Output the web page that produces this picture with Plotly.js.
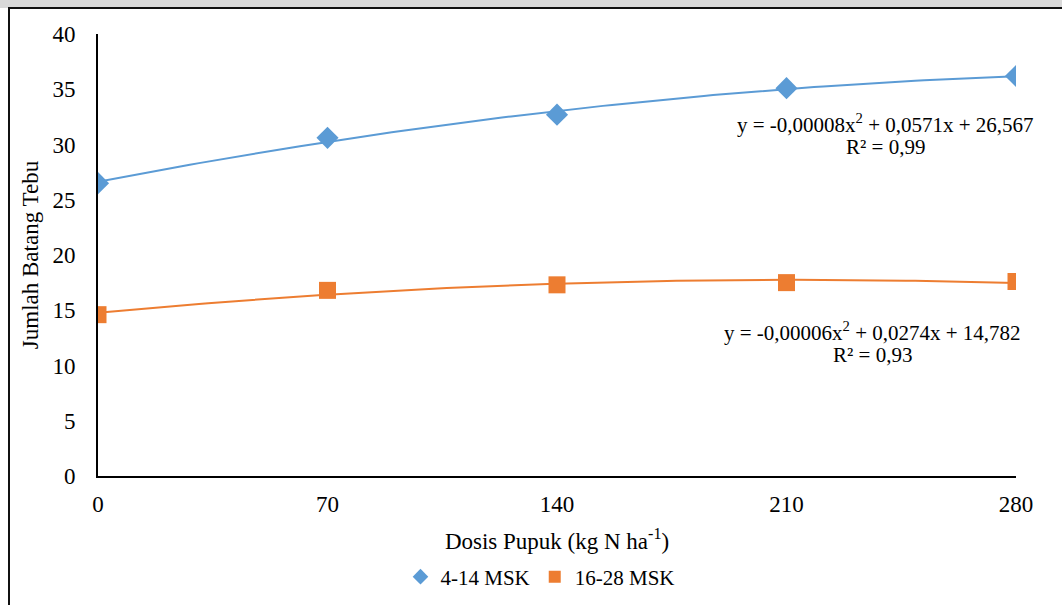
<!DOCTYPE html>
<html>
<head>
<meta charset="utf-8">
<script src="https://cdn.plot.ly/plotly-3.0.1.min.js"></script>
<style>
  html, body { margin:0; padding:0; background:#ffffff; width:1062px; height:605px; overflow:hidden; }
  #topband { position:absolute; left:0; top:0; width:1062px; height:8px; background:#d9d9d9; }
  #frame { position:absolute; left:8px; top:7px; width:1060px; height:610px; border-top:2px solid #111; border-left:2px solid #111; background:#fff; }
  #chart { position:absolute; left:0; top:0; width:1062px; height:605px; }
</style>
</head>
<body>
<div id="topband"></div>
<div id="frame"></div>
<div id="chart"></div>
<script>
// Data
const doses = [0, 70, 140, 210, 280];
const seriesA = [26.5, 30.6, 32.7, 35.1, 36.2];   // 4-14 MSK
const seriesB = [14.6, 16.8, 17.3, 17.5, 17.6];   // 16-28 MSK
const xTickLabels = ['0', '70', '140', '210', '280'];
const nameA = '4-14 MSK';
const nameB = '16-28 MSK';
const eqA = ['y = -0,00008x<sup>2</sup> + 0,0571x + 26,567', 'R² = 0,99'];
const eqB = ['y = -0,00006x<sup>2</sup> + 0,0274x + 14,782', 'R² = 0,93'];

// least-squares quadratic fit (Excel polynomial trendline, order 2)
function quadFit(xs, ys) {
  let S = [0,0,0,0,0], T = [0,0,0];
  for (let i = 0; i < xs.length; i++) {
    let p = 1;
    for (let k = 0; k < 5; k++) { S[k] += p; if (k < 3) T[k] += p * ys[i]; p *= xs[i]; }
  }
  const M = [[S[0],S[1],S[2],T[0]],[S[1],S[2],S[3],T[1]],[S[2],S[3],S[4],T[2]]];
  for (let c = 0; c < 3; c++) {
    for (let r = c+1; r < 3; r++) {
      const f = M[r][c] / M[c][c];
      for (let k = c; k < 4; k++) M[r][k] -= f * M[c][k];
    }
  }
  const a = [0,0,0];
  for (let r = 2; r >= 0; r--) {
    let s = M[r][3];
    for (let k = r+1; k < 3; k++) s -= M[r][k] * a[k];
    a[r] = s / M[r][r];
  }
  return a; // c0, c1, c2
}
function curve(xs, ys) {
  const c = quadFit(xs, ys);
  const cx = [], cy = [];
  const x0 = xs[0], x1 = xs[xs.length-1];
  for (let i = 0; i <= 100; i++) {
    const x = x0 + (x1 - x0) * i / 100;
    cx.push(x); cy.push(c[0] + c[1]*x + c[2]*x*x);
  }
  return {x: cx, y: cy};
}
const fitA = curve(doses, seriesA);
const fitB = curve(doses, seriesB);

const blue = '#5b9bd5', orange = '#ed7d31';
const font = 'Liberation Serif, Times New Roman, serif';

const traces = [
  {x: fitA.x, y: fitA.y, mode:'lines', line:{color:blue, width:2}, showlegend:false, hoverinfo:'skip'},
  {x: fitB.x, y: fitB.y, mode:'lines', line:{color:orange, width:2}, showlegend:false, hoverinfo:'skip'},
  {x: doses, y: seriesA, mode:'markers', name:nameA, marker:{symbol:'diamond', size:17, color:blue}},
  {x: doses, y: seriesB, mode:'markers', name:nameB, marker:{symbol:'square', size:17, color:orange}}
];

function eqAnn(x, y, text) {
  return {x:x, y:y, xref:'x', yref:'y', text:text, showarrow:false, align:'center',
          xanchor:'center', yanchor:'middle', font:{family:font, size:21, color:'#000'}};
}

const layout = {
  width:1062, height:605,
  margin:{l:98, r:46, t:34, b:129},
  paper_bgcolor:'rgba(0,0,0,0)', plot_bgcolor:'rgba(0,0,0,0)',
  font:{family:font, size:20, color:'#000'},
  xaxis:{
    range:[0,280], tickvals:doses, ticktext:xTickLabels, automargin:false,
    showgrid:false, zeroline:false, showline:true, linecolor:'#000', linewidth:2,
    ticks:'outside', ticklen:6, tickcolor:'rgba(0,0,0,0)',
    tickfont:{family:font, size:23},
    title:{text:'Dosis Pupuk (kg N ha<sup>-1</sup>)', font:{family:font, size:23}, standoff:17}
  },
  yaxis:{
    range:[0,40], dtick:5, automargin:false,
    showgrid:false, zeroline:false, showline:true, linecolor:'#000', linewidth:2,
    ticks:'outside', ticklen:16, tickcolor:'rgba(0,0,0,0)',
    tickfont:{family:font, size:23},
    title:{text:'Jumlah Batang Tebu', font:{family:font, size:23}, standoff:7}
  },
  showlegend:true,
  legend:{orientation:'h', x:0.482, xanchor:'center', yref:'container', y:0.0463, yanchor:'middle',
          font:{family:font, size:21}, itemsizing:'constant', tracegroupgap:0},
  annotations:[
    eqAnn(240.3, 31.86, eqA[0]),
    eqAnn(240.3, 29.76, eqA[1]),
    eqAnn(236.1, 13.12, eqB[0]),
    eqAnn(236.1, 10.94, eqB[1])
  ]
};

Plotly.newPlot('chart', traces, layout, {displayModeBar:false, staticPlot:true});
</script>
</body>
</html>
